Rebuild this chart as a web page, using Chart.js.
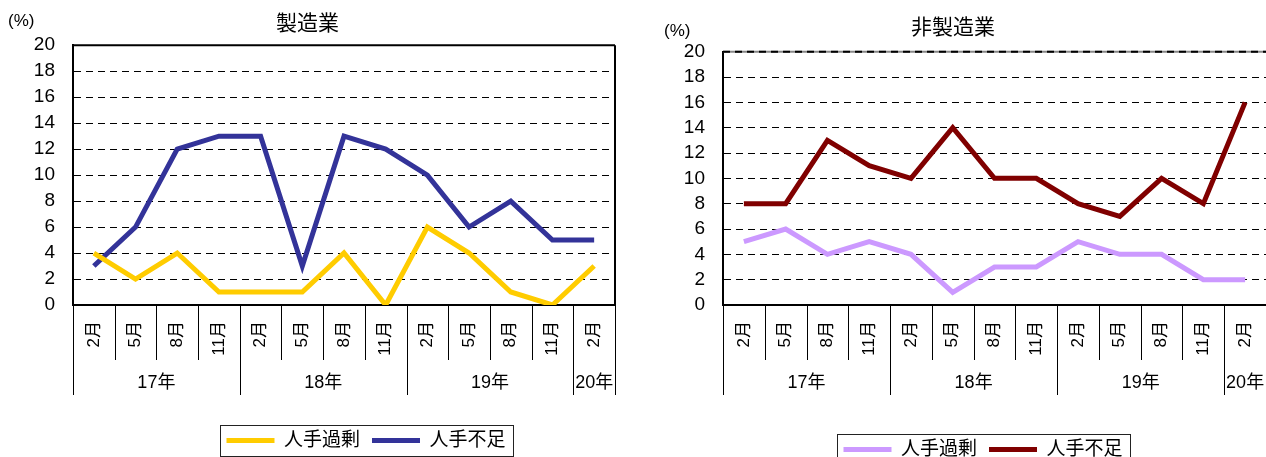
<!DOCTYPE html>
<html lang="ja">
<head>
<meta charset="utf-8">
<title>人手過剰・人手不足</title>
<script src="https://cdn.jsdelivr.net/npm/chart.js@4.4.0/dist/chart.umd.min.js"></script>
<style>
  body { margin: 0; background: #fff; width: 1266px; height: 457px; overflow: hidden; position: relative; }
  canvas { position: absolute; top: 0; }
  #mfgChart { left: 0; }
  #nonMfgChart { left: 640px; }
</style>
</head>
<body>
<canvas id="mfgChart" width="633" height="457"></canvas>
<canvas id="nonMfgChart" width="626" height="457"></canvas>
<script>
// quarterly survey months, grouped by year below the axis
const months = ['2月', '5月', '8月', '11月', '2月', '5月', '8月', '11月', '2月', '5月', '8月', '11月', '2月'];
const years = ['17年', '18年', '19年', '20年'];
const yearSpans = [4, 4, 4, 1];
const seriesNames = ['人手過剰', '人手不足'];

// 製造業 (%)
const mfgSurplus = [4, 2, 4, 1, 1, 1, 4, 0, 6, 4, 1, 0, 3];
const mfgShortage = [3, 6, 12, 13, 13, 3, 13, 12, 10, 6, 8, 5, 5];

// 非製造業 (%)
const nonMfgSurplus = [5, 6, 4, 5, 4, 1, 3, 3, 5, 4, 4, 2, 2];
const nonMfgShortage = [8, 8, 13, 11, 10, 14, 10, 10, 8, 7, 10, 8, 16];

const yMin = 0;
const yMax = 20;
const yStep = 2;

const FONT = "'Liberation Sans', 'Noto Sans CJK JP', sans-serif";
Chart.defaults.font.family = FONT;
Chart.defaults.color = '#000';

// month/year cells under the x axis, plot frame, unit label and legend box
const axisBoxes = {
    id: 'axisBoxes',
    afterLayout(chart, args, opts) {
        const lg = chart.legend;
        const lab = lg.options.labels;
        const dx = opts.legendX - (lg.left + lg.right) / 2;
        const dy = opts.legendY - (lg.top + lab.padding + lab.font.size / 2);
        lg.left += dx; lg.right += dx;
        lg.top += dy; lg.bottom += dy;
    },
    afterDraw(chart, args, opts) {
        const ctx = chart.ctx;
        const x = chart.scales.x;
        const area = chart.chartArea;
        const half = (x.getPixelForValue(1) - x.getPixelForValue(0)) / 2;
        const edge = i => x.getPixelForValue(0) - half + i * 2 * half;
        const base = area.bottom;

        ctx.save();
        ctx.strokeStyle = '#000';
        ctx.lineWidth = 1;

        // month cells
        for (let i = 0; i <= months.length; i++) {
            const px = Math.round(edge(i)) + 0.5;
            ctx.beginPath();
            ctx.moveTo(px, base);
            ctx.lineTo(px, base + opts.monthDepth);
            ctx.stroke();
        }

        // year cells + labels
        let start = 0;
        ctx.font = '18px ' + FONT;
        ctx.fillStyle = '#000';
        ctx.textAlign = 'center';
        ctx.textBaseline = 'middle';
        const drawYearLine = i => {
            const px = Math.round(edge(i)) + 0.5;
            ctx.beginPath();
            ctx.moveTo(px, base);
            ctx.lineTo(px, base + opts.yearDepth);
            ctx.stroke();
        };
        drawYearLine(0);
        years.forEach((yr, k) => {
            const end = start + yearSpans[k];
            drawYearLine(end);
            ctx.fillText(yr, (edge(start) + edge(end)) / 2, base + opts.yearLabelY);
            start = end;
        });

        // frame: top and right edges of the plot
        if (opts.solidTop) {
            ctx.lineWidth = 2;
            ctx.strokeStyle = '#000';
            ctx.beginPath();
            ctx.moveTo(area.left, area.top);
            ctx.lineTo(area.right, area.top);
            ctx.stroke();
        } else {
            // grey rule with the dashed gridline over it
            ctx.lineWidth = 2;
            ctx.strokeStyle = '#888';
            ctx.beginPath();
            ctx.moveTo(area.left, area.top);
            ctx.lineTo(area.right, area.top);
            ctx.stroke();
            ctx.strokeStyle = '#000';
            ctx.setLineDash([7, 5]);
            ctx.beginPath();
            ctx.moveTo(area.left, area.top);
            ctx.lineTo(area.right, area.top);
            ctx.stroke();
            ctx.setLineDash([]);
        }
        if (opts.rightFrame) {
            ctx.lineWidth = 2;
            ctx.strokeStyle = '#000';
            ctx.beginPath();
            ctx.moveTo(area.right, area.top);
            ctx.lineTo(area.right, base);
            ctx.stroke();
        }

        // unit label
        ctx.font = '17px ' + FONT;
        ctx.textAlign = 'left';
        ctx.fillText('(%)', opts.unitX, opts.unitY);

        // box round the legend
        const hb = chart.legend.legendHitBoxes;
        if (hb && hb.length) {
            const l = Math.min(...hb.map(h => h.left)) - 6;
            const r = Math.max(...hb.map(h => h.left + h.width)) + 8;
            const t = hb[0].top - 6;
            const h = hb[0].height + 12;
            ctx.lineWidth = 1;
            ctx.strokeStyle = '#222';
            ctx.strokeRect(Math.round(l) + 0.5, Math.round(t) + 0.5, Math.round(r - l), Math.round(h));
        }
        ctx.restore();
    }
};

function generateLineChart(canvasId, title, surplus, shortage, colors, layout) {
    const chartData = {
        labels: months,
        datasets: [{
            label: seriesNames[0],
            data: surplus,
            borderColor: colors[0],
            backgroundColor: colors[0],
            borderWidth: 5,
            pointRadius: 0,
            fill: false,
            tension: 0
        }, {
            label: seriesNames[1],
            data: shortage,
            borderColor: colors[1],
            backgroundColor: colors[1],
            borderWidth: 5,
            pointRadius: 0,
            fill: false,
            tension: 0
        }]
    };

    const config = {
        type: 'line',
        data: chartData,
        plugins: [axisBoxes],
        options: {
            responsive: false,
            animation: false,
            devicePixelRatio: 1,
            layout: {
                padding: { left: 0, right: layout.padRight, top: 0, bottom: 19 }
            },
            plugins: {
                title: {
                    display: true,
                    text: title,
                    color: '#000',
                    font: { size: 21, weight: 'normal', family: FONT },
                    padding: layout.titlePadding
                },
                legend: {
                    position: 'bottom',
                    labels: {
                        usePointStyle: true,
                        pointStyle: 'line',
                        pointStyleWidth: 48,
                        color: '#000',
                        font: { size: 19, family: FONT },
                        padding: 12
                    }
                },
                tooltip: { enabled: false },
                axisBoxes: layout.boxes
            },
            scales: {
                x: {
                    type: 'category',
                    offset: true,
                    grid: { display: false, drawTicks: false },
                    border: { display: true, color: '#000', width: 2 },
                    ticks: {
                        autoSkip: false,
                        minRotation: 90,
                        maxRotation: 90,
                        padding: 16,
                        color: '#000',
                        font: { size: 17 }
                    },
                    afterFit: function(scale) {
                        // rotated labels sit inside their cells, no side padding needed
                        scale.height = 92;
                        scale.paddingLeft = 0;
                        scale.paddingRight = 0;
                    }
                },
                y: {
                    min: yMin,
                    max: yMax,
                    grid: { color: '#000', lineWidth: 1, drawTicks: false },
                    border: { display: true, color: '#000', width: 2, dash: [7, 5] },
                    ticks: {
                        stepSize: yStep,
                        autoSkip: false,
                        padding: 18,
                        color: '#000',
                        font: { size: 19 }
                    },
                    afterFit: function(scale) {
                        scale.width = layout.yWidth;
                    }
                }
            }
        }
    };

    const myChart = new Chart(
        document.getElementById(canvasId),
        config
    );
}

generateLineChart('mfgChart', '製造業', mfgSurplus, mfgShortage, ['#FFCC00', '#333399'], {
    padRight: 18,
    yWidth: 73,
    titlePadding: { top: 12, bottom: 8 },
    boxes: {
        monthDepth: 55, yearDepth: 90, yearLabelY: 78,
        solidTop: true, rightFrame: true,
        unitX: 8, unitY: 21,
        legendX: 366, legendY: 440.5
    }
});

generateLineChart('nonMfgChart', '非製造業', nonMfgSurplus, nonMfgShortage, ['#CC99FF', '#800000'], {
    padRight: 0,
    yWidth: 83,
    titlePadding: { top: 16, bottom: 10.5 },
    boxes: {
        monthDepth: 55, yearDepth: 90, yearLabelY: 78,
        solidTop: false, rightFrame: false,
        unitX: 24, unitY: 31.5,
        legendX: 343, legendY: 449.5
    }
});
</script>
</body>
</html>
